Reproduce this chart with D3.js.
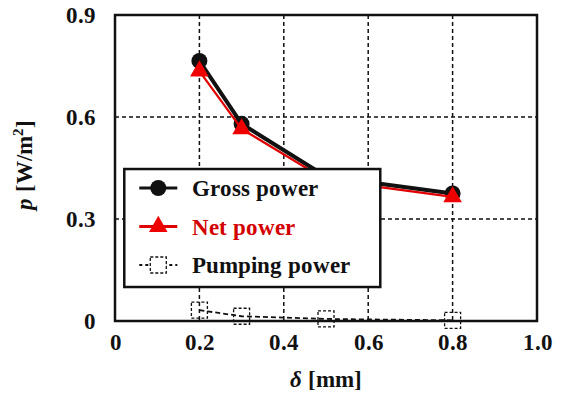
<!DOCTYPE html>
<html>
<head>
<meta charset="utf-8">
<script src="https://cdn.jsdelivr.net/npm/d3@7"></script>
<style>
@font-face { font-family: "SerifB"; src: local("Liberation Serif Bold"), local("LiberationSerif-Bold"); font-weight: bold; font-style: normal; }
@font-face { font-family: "SerifB"; src: local("Liberation Serif Bold Italic"), local("LiberationSerif-BoldItalic"); font-weight: bold; font-style: italic; }
</style>
</head>
<body style="margin:0;background:#fff">
<div id="chart"></div>
<script>
// data
var delta = [0.2, 0.3, 0.5, 0.8];
var gross = [0.765, 0.58, 0.425, 0.375];
var net = [0.735, 0.565, 0.415, 0.365];
var pumping = [0.032, 0.014, 0.006, 0.002];
var xTicks = [0, 0.2, 0.4, 0.6, 0.8, 1.0];
var yTicks = [0, 0.3, 0.6, 0.9];

var FONT = "SerifB, 'Liberation Serif'";
var svgWidth = 561, svgHeight = 394;
var margin = {top: 15, right: 24, bottom: 73, left: 115},
	width = svgWidth - margin.left - margin.right,
	height = svgHeight - margin.top - margin.bottom;

var root = d3.select("#chart")
	.append("svg")
		.attr("width", svgWidth)
		.attr("height", svgHeight);
var svg = root.append("g")
		.attr("transform", `translate(${margin.left},${margin.top})`);

var x = d3.scaleLinear().domain([0, 1]).range([0, width]);
var y = d3.scaleLinear().domain([0, 0.9]).range([height, 0]);

function styleText(sel, size, color) {
	sel.style("font-family", FONT).style("font-weight", "bold")
		.style("font-size", size + "px").attr("fill", color || "#111");
}

// dashed grid
svg.selectAll(".vgrid").data([0.2, 0.4, 0.6, 0.8]).enter().append("line")
	.attr("x1", d => x(d)).attr("x2", d => x(d))
	.attr("y1", 0).attr("y2", height)
	.attr("stroke", "#111").attr("stroke-width", 1.5).attr("stroke-dasharray", "4,3");
svg.selectAll(".hgrid").data([0.3, 0.6]).enter().append("line")
	.attr("x1", 0).attr("x2", width)
	.attr("y1", d => y(d)).attr("y2", d => y(d))
	.attr("stroke", "#111").attr("stroke-width", 1.5).attr("stroke-dasharray", "4,3");

// axes (labels only)
var fmt = d => d === 0 ? "0" : d3.format(".1f")(d);
var xAxis = svg.append("g")
	.attr("transform", `translate(0, ${height})`)
	.call(d3.axisBottom(x).tickValues(xTicks).tickSize(0).tickPadding(13).tickFormat(fmt));
var yAxis = svg.append("g")
	.call(d3.axisLeft(y).tickValues(yTicks).tickSize(0).tickPadding(19).tickFormat(fmt));
[xAxis, yAxis].forEach(function(a) {
	a.select(".domain").remove();
	a.attr("font-family", null).attr("font-size", null);
	styleText(a.selectAll("text"), 23);
});

var data = delta.map((d, i) => ({d: d, g: gross[i], n: net[i], p: pumping[i]}));

// pumping power
svg.append("path").datum(data)
	.attr("fill", "none").attr("stroke", "#111").attr("stroke-width", 1.8)
	.attr("stroke-dasharray", "5,3")
	.attr("d", d3.line().x(d => x(d.d)).y(d => y(d.p)));
svg.selectAll(".pmark").data(data).enter().append("rect")
	.attr("x", d => x(d.d) - 8).attr("y", d => y(d.p) - 8)
	.attr("width", 16).attr("height", 16)
	.attr("fill", "none").attr("stroke", "#111").attr("stroke-width", 1.3)
	.attr("stroke-dasharray", "3,2");

// gross power
svg.append("path").datum(data)
	.attr("fill", "none").attr("stroke", "#111").attr("stroke-width", 4)
	.attr("d", d3.line().x(d => x(d.d)).y(d => y(d.g)));
svg.selectAll(".gmark").data(data).enter().append("circle")
	.attr("cx", d => x(d.d)).attr("cy", d => y(d.g)).attr("r", 8)
	.attr("fill", "#111");

// net power
svg.append("path").datum(data)
	.attr("fill", "none").attr("stroke", "#e00000").attr("stroke-width", 2.2)
	.attr("d", d3.line().x(d => x(d.d)).y(d => y(d.n)));
var tri = d3.symbol().type(d3.symbolTriangle).size(150);
svg.selectAll(".nmark").data(data).enter().append("path")
	.attr("transform", d => `translate(${x(d.d)},${y(d.n)})`)
	.attr("d", tri).attr("fill", "#ee0000");

// plot frame
svg.append("rect").attr("width", width).attr("height", height)
	.attr("fill", "none").attr("stroke", "#111").attr("stroke-width", 2.5);

// legend
var legend = svg.append("g").attr("transform", `translate(${x(0.022)},${y(0.447)})`);
legend.append("rect").attr("width", 256).attr("height", 118)
	.attr("fill", "#fff").attr("stroke", "#111").attr("stroke-width", 2.5);
var items = [
	{label: "Gross power", color: "#111", type: "g"},
	{label: "Net power", color: "#e00000", type: "n"},
	{label: "Pumping power", color: "#111", type: "p"}
];
items.forEach(function(it, i) {
	var gy = 19 + i * 38.5;
	var row = legend.append("g").attr("transform", `translate(0,${gy})`);
	row.append("line").attr("x1", 15).attr("x2", 53).attr("y1", 0).attr("y2", 0)
		.attr("stroke", it.color)
		.attr("stroke-width", it.type === "p" ? 1.8 : 3)
		.attr("stroke-dasharray", it.type === "p" ? "3,3" : null);
	if (it.type === "g") {
		row.append("circle").attr("cx", 34).attr("cy", 0).attr("r", 8).attr("fill", "#111");
	} else if (it.type === "n") {
		row.append("path").attr("transform", "translate(34,0)").attr("d", tri).attr("fill", "#ee0000");
	} else {
		row.append("rect").attr("x", 26).attr("y", -8).attr("width", 16).attr("height", 16)
			.attr("fill", "#fff").attr("stroke", "#111").attr("stroke-width", 1.3)
			.attr("stroke-dasharray", "3,2");
	}
	var t = row.append("text").attr("x", 68).attr("y", 8).text(it.label);
	styleText(t, 23, it.type === "n" ? "#d40000" : "#111");
});

// axis titles
var xt = svg.append("text").attr("x", x(0.5)).attr("y", height + 66)
	.attr("text-anchor", "middle");
styleText(xt, 23);
xt.append("tspan").style("font-style", "italic").text("δ");
xt.append("tspan").text(" [mm]");

var yt = svg.append("text")
	.attr("transform", `translate(${-83},${height / 2 - 3}) rotate(-90)`)
	.attr("text-anchor", "middle");
styleText(yt, 23);
yt.append("tspan").style("font-style", "italic").text("p");
yt.append("tspan").text(" [W/m");
yt.append("tspan").style("font-size", "15px").attr("dy", -9).text("2");
yt.append("tspan").attr("dy", 9).text("]");
</script>
</body>
</html>
